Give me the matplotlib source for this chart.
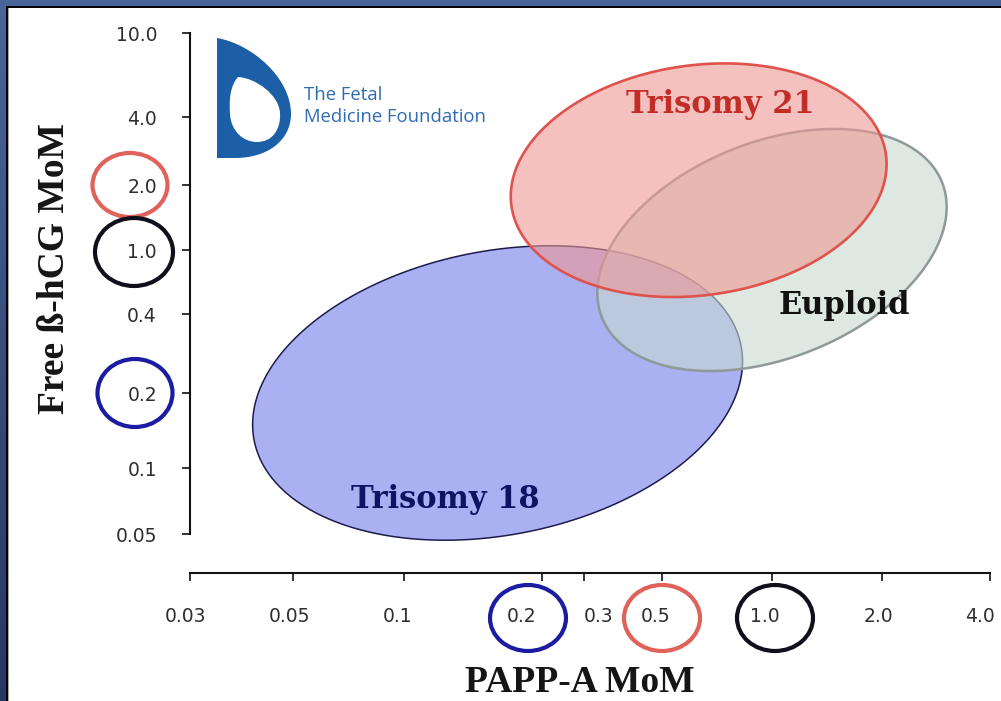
import numpy as np
import matplotlib
matplotlib.use("Agg")
import matplotlib.pyplot as plt
from matplotlib.patches import Ellipse, PathPatch
from matplotlib.path import Path
from matplotlib.transforms import Affine2D, IdentityTransform, ScaledTranslation
from matplotlib.ticker import FixedLocator, FixedFormatter, NullLocator

# ------------------------------------------------------------------ data
groups = ["Trisomy 18", "Euploid", "Trisomy 21"]
papp_a_median = [0.16, 1.0, 0.63]      # PAPP-A MoM (ellipse centres)
beta_hcg_median = [0.20, 1.0, 2.1]     # free beta-hCG MoM (ellipse centres)

x_tick_values = [0.03, 0.05, 0.1, 0.2, 0.3, 0.5, 1.0, 2.0, 4.0]
x_tick_labels = ["0.03", "0.05", "0.1", "0.2", "0.3", "0.5", "1.0", "2.0", "4.0"]
y_tick_values = [0.05, 0.1, 0.2, 0.4, 1.0, 2.0, 4.0, 10.0]
y_tick_labels = ["0.05", "0.1", "0.2", "0.4", "1.0", "2.0", "4.0", "10.0"]

x_circled = [0.2, 0.5, 1.0]
x_circled_group = ["Trisomy 18", "Trisomy 21", "Euploid"]
y_circled = [2.0, 1.0, 0.2]
y_circled_group = ["Trisomy 21", "Euploid", "Trisomy 18"]

# label anchor points (in MoM units)
label_papp_a = [0.123, 1.58, 0.72]
label_beta_hcg = [0.0715, 0.449, 4.56]

# ------------------------------------------------------------------ layout / style
W, H, DPI = 1001, 701, 100
x_tick_px = [190, 293, 404, 542, 584, 662, 772, 882, 990]
y_tick_px = [534, 468, 393, 314, 250, 185, 117, 33]      # image rows (top = 0)
x_label_dx = [-4, -4, -6, -20, 15, -6, -7, -4, -10]

style = {
    "Trisomy 18": dict(a=248, b=142, angle=11, face=(170/255, 176/255, 242/255, 1.0),
                       edge="#1c1c4c", lw=1.1, text="#121262", circle="#1c1ca2"),
    "Euploid": dict(a=183, b=108, angle=21.7, face=(200/255, 217/255, 207/255, 0.6),
                    edge="#8f9999", lw=1.8, text="#111111", circle="#10101c"),
    "Trisomy 21": dict(a=189, b=115, angle=7.8, face=(238/255, 152/255, 147/255, 0.6),
                       edge="#e0524c", lw=1.9, text="#c22d28", circle="#e0625a"),
}


def _lin(x, xp, fp):
    x = np.asarray(x, float)
    y = np.interp(x, xp, fp)
    s0 = (fp[1] - fp[0]) / (xp[1] - xp[0])
    s1 = (fp[-1] - fp[-2]) / (xp[-1] - xp[-2])
    y = np.where(x < xp[0], fp[0] + (x - xp[0]) * s0, y)
    y = np.where(x > xp[-1], fp[-1] + (x - xp[-1]) * s1, y)
    return y


def make_funcs(values, positions):
    lv = np.log10(np.asarray(values, float))
    p = np.asarray(positions, float)
    o = np.argsort(lv)
    lv, p = lv[o], p[o]

    def fwd(v):
        v = np.asarray(v, float)
        with np.errstate(all="ignore"):
            l = np.log10(np.where(v > 0, v, np.nan))
        return _lin(l, lv, p)

    def inv(q):
        return 10 ** _lin(np.asarray(q, float), p, lv)

    return fwd, inv


fx, ix = make_funcs(x_tick_values, x_tick_px)
fy, iy = make_funcs(y_tick_values, [H - p for p in y_tick_px])

fig = plt.figure(figsize=(W / DPI, H / DPI), dpi=DPI, facecolor="white")
px = Affine2D().scale(1, -1).translate(0, H)   # image pixel coords -> display

ax = fig.add_axes([190 / W, (H - 534) / H, 800 / W, (534 - 33) / H])
ax.patch.set_alpha(0)
ax.set_xscale("function", functions=(fx, ix))
ax.set_yscale("function", functions=(fy, iy))
ax.set_xlim(0.03, 4.0)
ax.set_ylim(0.05, 10.0)

# ellipses
t = np.linspace(0, 2 * np.pi, 721)
for i, (name, xm, ym) in enumerate(zip(groups, papp_a_median, beta_hcg_median)):
    st = style[name]
    cx, cy = float(fx(xm)), float(fy(ym))
    th = np.deg2rad(st["angle"])
    ex = cx + st["a"] * np.cos(th) * np.cos(t) - st["b"] * np.sin(th) * np.sin(t)
    ey = cy + st["a"] * np.sin(th) * np.cos(t) + st["b"] * np.cos(th) * np.sin(t)
    ax.fill(ix(ex), iy(ey), facecolor=st["face"], edgecolor=st["edge"],
            linewidth=st["lw"], clip_on=False, zorder=2 + i)

for name, xl, yl in zip(groups, label_papp_a, label_beta_hcg):
    ax.text(xl, yl, name, ha="center", va="center", fontfamily="DejaVu Serif",
            fontweight="bold", fontsize=22, color=style[name]["text"], zorder=10)

ax.set_xlim(0.03, 4.0)
ax.set_ylim(0.05, 10.0)

# axes cosmetics
for s in ["top", "right"]:
    ax.spines[s].set_visible(False)
ax.spines["bottom"].set_position(("outward", 39 * 72 / DPI))
for s in ["bottom", "left"]:
    ax.spines[s].set_linewidth(1.5)
    ax.spines[s].set_color("#111111")

ax.xaxis.set_major_locator(FixedLocator(x_tick_values))
ax.xaxis.set_major_formatter(FixedFormatter(x_tick_labels))
ax.xaxis.set_minor_locator(NullLocator())
ax.yaxis.set_major_locator(FixedLocator(y_tick_values))
ax.yaxis.set_major_formatter(FixedFormatter(y_tick_labels))
ax.yaxis.set_minor_locator(NullLocator())
ax.tick_params(axis="both", direction="out", length=8 * 0.72, width=1.2,
               color="#111111", labelsize=13.5, labelcolor="#2e2e2e")
ax.tick_params(axis="x", pad=19)
ax.tick_params(axis="y", pad=18)

for lab, dx in zip(ax.get_xticklabels(), x_label_dx):
    lab.set_transform(lab.get_transform() + ScaledTranslation(dx / DPI, 0, fig.dpi_scale_trans))

# axis titles
fig.text(580, 700, "PAPP-A MoM", transform=px, ha="center", va="bottom",
         fontfamily="Liberation Serif", fontweight="bold", fontsize=27, color="#151515")
fig.text(64, 269, "Free ß-hCG MoM", transform=px, ha="center", va="baseline",
         rotation=90, rotation_mode="anchor", fontfamily="Liberation Serif",
         fontweight="bold", fontsize=27, color="#151515")

# highlight circles around tick labels
x_circle_dx = [-14, 0, 3]
for v, g, dx in zip(x_circled, x_circled_group, x_circle_dx):
    xd = ax.transData.transform((v, 1.0))[0] + dx
    fig.add_artist(Ellipse((xd, H - 618), 76, 66, fill=False, lw=3.0,
                           edgecolor=style[g]["circle"], transform=IdentityTransform()))
y_circle_xy = [(130, 0, 75, 64), (134, -2, 78, 68), (135, 0, 75, 68)]
for v, g, (cxp, dy, w, h) in zip(y_circled, y_circled_group, y_circle_xy):
    yd = ax.transData.transform((1.0, v))[1] + dy
    fig.add_artist(Ellipse((cxp, yd), w, h, fill=False, lw=3.0,
                           edgecolor=style[g]["circle"], transform=IdentityTransform()))

# logo
logo_col = "#1d5fa7"
verts = [(217, 38), (252, 44), (291, 78), (291, 114),
         (291, 140), (268, 158), (235, 158),
         (217, 158), (217, 38),
         (238, 77), (230, 86), (229, 100), (230, 114),
         (231, 131), (243, 142), (257, 142),
         (272, 142), (281, 130), (280, 113),
         (279, 95), (256, 78), (238, 77), (238, 77)]
codes = ([Path.MOVETO] + [Path.CURVE4] * 6 + [Path.LINETO, Path.CLOSEPOLY] +
         [Path.MOVETO] + [Path.CURVE4] * 12 + [Path.CLOSEPOLY])
fig.add_artist(PathPatch(Path(verts, codes), facecolor=logo_col, edgecolor="none",
                         transform=px))
fig.text(304, 95, "The Fetal", transform=px, ha="left", va="center",
         fontfamily="Open Sans", fontsize=13.3, color="#2e6bb3")
fig.text(304, 117, "Medicine Foundation", transform=px, ha="left", va="center",
         fontfamily="Open Sans", fontsize=13.3, color="#2e6bb3")

# frame
border = np.zeros((H, W, 4))
border[0:6, :, :3] = np.array([74, 101, 153]) / 255
border[0:6, :, 3] = 1
g = np.linspace(0, 1, H)[:, None]
left = (1 - g) * np.array([74, 101, 153]) / 255 + g * np.array([40, 54, 100]) / 255
border[:, 0:6, :3] = left[:, None, :]
border[:, 0:6, 3] = 1
border[6:8, 6:, :3] = 0.02
border[6:8, 6:, 3] = 1
border[6:, 6:8, :3] = 0.02
border[6:, 6:8, 3] = 1
border[8:, 8, :3] = 0.65
border[8:, 8, 3] = 1
fig.figimage(border, xo=0, yo=0, origin="upper", zorder=20)

fig.savefig("out.png", dpi=DPI, facecolor="white")
